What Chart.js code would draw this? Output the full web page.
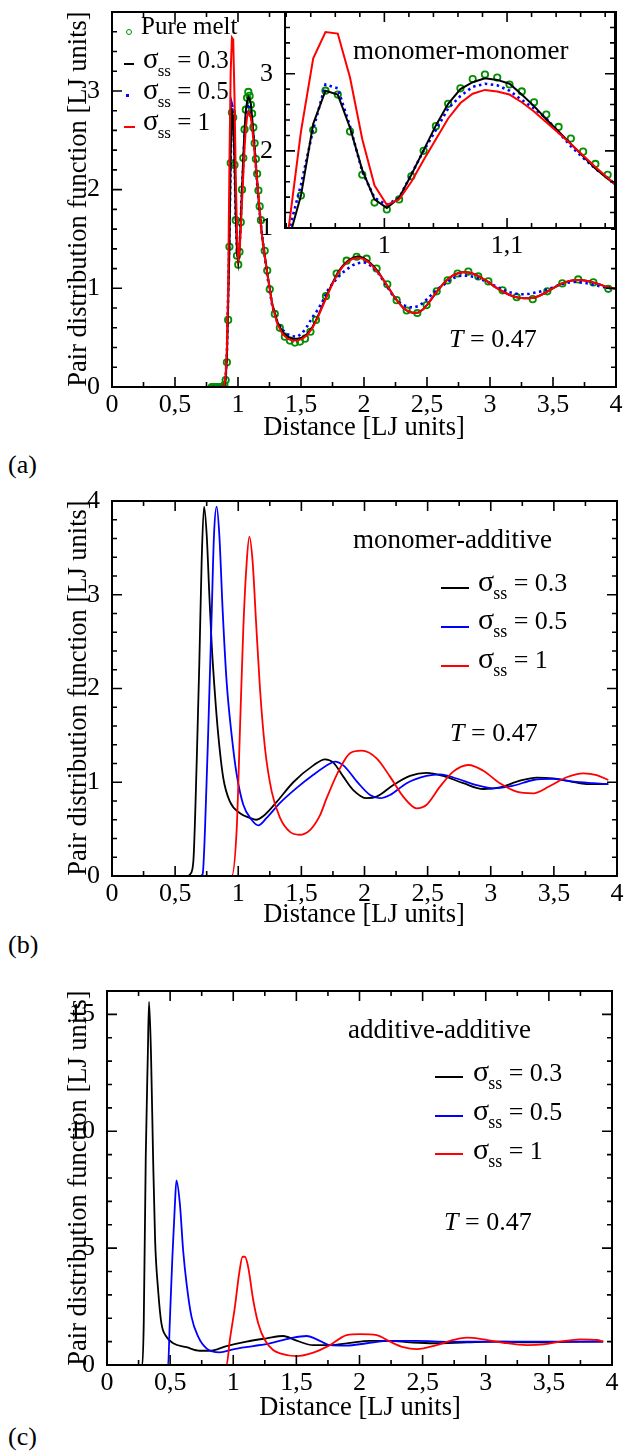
<!DOCTYPE html>
<html>
<head>
<meta charset="utf-8">
<title>Pair distribution functions</title>
<script src="https://cdn.jsdelivr.net/npm/chart.js@4.4.1/dist/chart.umd.min.js"></script>
<style>
  body { margin: 0; background: #fff; }
  #page { position: relative; width: 631px; height: 1455px; overflow: hidden;
          font-family: "Liberation Serif", "Times New Roman", serif; color: #000; }
  canvas { position: absolute; }
  .t { position: absolute; white-space: nowrap; line-height: 1; font-size: 26px; }
  .ytitle { position: absolute; white-space: nowrap; line-height: 1; font-size: 26.5px;
            transform: translate(-50%, -50%) rotate(-90deg); }
  .xtitle { position: absolute; white-space: nowrap; line-height: 1; font-size: 26.5px;
            transform: translateX(-50%); }
  .sg { font-size: 30px; line-height: 0; }
  .sb { font-size: 18px; line-height: 0; position: relative; top: 8px; margin-left: -1px; }
  .leg-a .sg { font-size: 29px; }
  .leg-a .sb { font-size: 17px; }
  .sw { position: absolute; height: 2px; }
</style>
</head>
<body>
<div id="page">
  <canvas id="cA" width="631" height="420" style="left:0;top:0"></canvas>
  <canvas id="cInset" width="391" height="260" style="left:240px;top:0"></canvas>
  <canvas id="cB" width="631" height="430" style="left:0;top:480px"></canvas>
  <canvas id="cC" width="631" height="430" style="left:0;top:970px"></canvas>

  <!-- panel (a) -->
  <div class="ytitle" style="left:77px;top:199px">Pair distribution function [LJ units]</div>
  <div class="xtitle" style="left:364px;top:413px">Distance [LJ units]</div>
  <div class="t" style="left:8px;top:452px">(a)</div>
  <div class="t" style="left:353px;top:37px;font-size:27px">monomer-monomer</div>
  <div class="t" style="left:449px;top:326px"><i>T</i> = 0.47</div>
  <div style="position:absolute;left:126px;top:29px;width:4px;height:4px;border:1.6px solid #009000;border-radius:50%"></div>
  <div class="sw" style="left:124px;top:63px;width:10px;background:#000"></div>
  <div class="sw" style="left:126px;top:94px;width:3px;height:3px;background:#0000ff"></div>
  <div class="sw" style="left:124px;top:126px;width:11px;background:#ff0000"></div>
  <div class="t leg-a" style="left:141px;top:13px;font-size:25px">Pure melt</div>
  <div class="t leg-a" style="left:143px;top:47px;font-size:25px"><span class="sg">σ</span><span class="sb">ss</span> = 0.3</div>
  <div class="t leg-a" style="left:143px;top:78px;font-size:25px"><span class="sg">σ</span><span class="sb">ss</span> = 0.5</div>
  <div class="t leg-a" style="left:143px;top:109px;font-size:25px"><span class="sg">σ</span><span class="sb">ss</span> = 1</div>

  <!-- panel (b) -->
  <div class="ytitle" style="left:77px;top:688px">Pair distribution function [LJ units]</div>
  <div class="xtitle" style="left:364px;top:900px">Distance [LJ units]</div>
  <div class="t" style="left:8px;top:932px">(b)</div>
  <div class="t" style="left:353px;top:526px;font-size:27px">monomer-additive</div>
  <div class="sw" style="left:441px;top:587px;width:28px;background:#000"></div>
  <div class="sw" style="left:441px;top:626px;width:28px;background:#0000ff"></div>
  <div class="sw" style="left:441px;top:665px;width:28px;background:#ff0000"></div>
  <div class="t" style="left:478px;top:570px"><span class="sg">σ</span><span class="sb">ss</span> = 0.3</div>
  <div class="t" style="left:478px;top:608px"><span class="sg">σ</span><span class="sb">ss</span> = 0.5</div>
  <div class="t" style="left:478px;top:647px"><span class="sg">σ</span><span class="sb">ss</span> = 1</div>
  <div class="t" style="left:450px;top:720px"><i>T</i> = 0.47</div>

  <!-- panel (c) -->
  <div class="ytitle" style="left:77px;top:1178px">Pair distribution function [LJ units]</div>
  <div class="xtitle" style="left:360px;top:1393px">Distance [LJ units]</div>
  <div class="t" style="left:8px;top:1424px">(c)</div>
  <div class="t" style="left:348px;top:1016px;font-size:27px">additive-additive</div>
  <div class="sw" style="left:435px;top:1076px;width:28px;background:#000"></div>
  <div class="sw" style="left:435px;top:1115px;width:28px;background:#0000ff"></div>
  <div class="sw" style="left:435px;top:1153px;width:28px;background:#ff0000"></div>
  <div class="t" style="left:473px;top:1060px"><span class="sg">σ</span><span class="sb">ss</span> = 0.3</div>
  <div class="t" style="left:473px;top:1099px"><span class="sg">σ</span><span class="sb">ss</span> = 0.5</div>
  <div class="t" style="left:473px;top:1138px"><span class="sg">σ</span><span class="sb">ss</span> = 1</div>
  <div class="t" style="left:444px;top:1209px"><i>T</i> = 0.47</div>
</div>

<script>
/* ---------- (a) monomer-monomer ---------- */
// pure melt: fine bins around the first shell, sparser further out
const aPureX = [0.792,0.802,0.812,0.822,0.832,0.842,0.852,0.862,0.872,0.882,0.892,0.902,0.912,0.922,0.932,0.942,0.952,0.962,0.972,0.982,
  0.992,1.002,1.012,1.022,1.032,1.042,1.052,1.062,1.072,1.082,1.092,1.102,1.112,1.122,1.132,1.142,1.152,1.162,1.172,1.182,
  1.212,1.232,1.252,1.292,1.332,1.372,1.412,1.452,1.492,1.532,1.575,1.619,1.698,1.783,1.862,1.942,2.021,2.100,2.185,2.259,
  2.339,2.423,2.497,2.577,2.664,2.743,2.828,2.907,2.987,3.100,3.212,3.339,3.455,3.574,3.700,3.820,3.939];
const aPureY = [0,0,0,0,0,0,0,0,0,0,0.02,0.07,0.25,0.68,1.42,2.27,2.78,2.73,2.25,1.69,
  1.33,1.24,1.37,1.67,2.00,2.32,2.61,2.81,2.93,2.99,2.95,2.86,2.77,2.63,2.47,2.31,2.16,1.99,1.83,1.69,
  1.38,1.18,0.99,0.74,0.60,0.51,0.47,0.45,0.46,0.49,0.56,0.68,0.92,1.15,1.28,1.32,1.30,1.20,1.04,0.88,
  0.775,0.75,0.83,0.97,1.08,1.15,1.17,1.12,1.07,0.98,0.91,0.89,0.97,1.05,1.09,1.06,0.995];

const aDenseX = [0.792,0.802,0.812,0.822,0.832,0.842,0.852,0.862,0.872,0.882,0.892,0.902,0.912,0.922,0.932,0.942,0.952,0.962,0.972,0.982,
  0.992,1.002,1.012,1.022,1.032,1.042,1.052,1.062,1.072,1.082,1.092,1.102,1.112,1.122,1.132,1.142,1.152,1.162,1.172,1.182,1.192];
const aTailX = [1.232,1.272,1.312,1.352,1.392,1.432,1.472,1.512,1.552,1.592,1.632,1.672,1.712,1.752,1.792,1.832,1.872,1.912,1.952,1.992,
  2.032,2.072,2.112,2.152,2.192,2.232,2.272,2.312,2.352,2.392,2.432,2.472,2.512,2.552,2.592,2.632,2.672,2.712,2.752,2.792,
  2.832,2.872,2.912,2.952,2.992,3.032,3.072,3.112,3.152,3.192,3.232,3.272,3.312,3.352,3.392,3.432,3.472,3.512,3.552,3.592,
  3.632,3.672,3.712,3.752,3.792,3.832,3.872,3.912,3.952,3.992];

const aS03Dense = [0,0,0,0,0,0,0,0,0,0,0.02,0.08,0.30,0.85,1.42,2.35,2.78,2.73,2.30,1.75,
  1.37,1.26,1.39,1.69,2.01,2.33,2.61,2.80,2.89,2.94,2.92,2.87,2.73,2.58,2.41,2.25,2.09,1.93,1.77,1.64,1.52];
const aS03Tail = [1.16,0.84,0.66,0.56,0.51,0.49,0.49,0.50,0.54,0.61,0.71,0.83,0.95,1.06,1.16,1.23,1.28,1.31,1.325,1.31,
  1.28,1.23,1.17,1.09,1.01,0.93,0.86,0.80,0.765,0.75,0.755,0.79,0.85,0.92,0.99,1.05,1.10,1.135,1.155,1.165,
  1.16,1.145,1.12,1.09,1.06,1.02,0.99,0.96,0.935,0.915,0.905,0.90,0.90,0.905,0.925,0.95,0.98,1.01,1.04,1.06,
  1.075,1.085,1.085,1.08,1.07,1.055,1.04,1.02,1.005,0.995];

const aS05Dense = [0,0,0,0,0,0,0,0,0,0,0.03,0.10,0.35,0.95,1.56,2.28,2.86,2.81,2.32,1.73,
  1.39,1.30,1.39,1.70,2.00,2.27,2.55,2.71,2.83,2.87,2.85,2.78,2.66,2.55,2.42,2.24,2.06,1.91,1.77,1.65,1.52];
const aS05Tail = [1.13,0.82,0.66,0.58,0.535,0.515,0.51,0.55,0.62,0.71,0.78,0.87,0.98,1.05,1.11,1.16,1.20,1.235,1.255,1.265,
  1.25,1.21,1.155,1.08,1.00,0.92,0.865,0.83,0.81,0.805,0.82,0.855,0.905,0.955,1.00,1.035,1.075,1.105,1.125,1.13,
  1.125,1.115,1.10,1.08,1.06,1.03,1.005,0.98,0.96,0.95,0.94,0.94,0.945,0.955,0.965,0.98,0.995,1.015,1.035,1.05,
  1.06,1.065,1.06,1.055,1.045,1.035,1.02,1.01,1.0,0.995];

const aS1Dense = [0,0,0,0,0,0,0,0,0,0,0.03,0.12,0.40,1.00,2.25,3.20,3.54,3.52,2.95,2.15,
  1.55,1.30,1.37,1.60,1.88,2.15,2.42,2.62,2.74,2.79,2.77,2.73,2.63,2.51,2.37,2.23,2.09,1.94,1.79,1.65,1.51];
const aS1Tail = [1.15,0.83,0.64,0.54,0.49,0.47,0.47,0.49,0.53,0.60,0.70,0.82,0.94,1.05,1.15,1.22,1.27,1.30,1.31,1.30,
  1.27,1.22,1.16,1.09,1.01,0.93,0.86,0.80,0.765,0.75,0.755,0.79,0.85,0.92,0.99,1.05,1.10,1.135,1.155,1.165,
  1.16,1.145,1.12,1.09,1.06,1.02,0.99,0.96,0.935,0.915,0.905,0.90,0.90,0.905,0.925,0.95,0.98,1.01,1.04,1.06,
  1.075,1.085,1.085,1.08,1.07,1.055,1.04,1.02,1.005,0.995];

/* ---------- (b) monomer-additive ---------- */
const bS03X = [0.40,0.60,0.62,0.644,0.671,0.692,0.710,0.729,0.750,0.771,0.790,0.816,0.842,0.882,0.935,1.014,1.093,1.141,1.199,1.304,
  1.436,1.595,1.687,1.753,1.832,1.911,2.017,2.096,2.228,2.360,2.490,2.624,2.783,2.941,3.073,3.232,3.364,3.495,3.628,3.760,3.931];
const bS03Y = [0,0,0.02,0.15,1.22,2.29,3.35,3.94,3.64,3.00,2.46,1.93,1.50,1.04,0.79,0.67,0.62,0.60,0.64,0.79,
  1.00,1.18,1.245,1.21,1.06,0.917,0.83,0.846,0.97,1.067,1.10,1.067,0.99,0.928,0.946,1.017,1.05,1.04,1.01,0.98,0.98];
const bS05X = [0.40,0.70,0.718,0.737,0.763,0.790,0.808,0.829,0.850,0.877,0.908,0.948,0.988,1.040,1.106,1.159,1.225,1.331,1.463,1.595,
  1.727,1.766,1.832,1.951,2.044,2.123,2.202,2.334,2.490,2.598,2.730,2.889,3.020,3.179,3.337,3.495,3.654,3.812,3.931];
const bS05Y = [0,0,0.02,0.51,1.58,2.82,3.64,3.94,3.64,2.82,2.07,1.50,1.08,0.76,0.60,0.54,0.62,0.78,0.94,1.08,
  1.20,1.22,1.18,0.99,0.864,0.83,0.864,0.99,1.067,1.085,1.04,0.97,0.935,0.963,1.024,1.035,1.006,0.99,0.98];
const bS1X = [0.70,0.948,0.988,1.014,1.040,1.067,1.088,1.114,1.141,1.172,1.212,1.265,1.331,1.410,1.484,1.568,1.648,1.700,1.806,1.885,
  1.978,2.096,2.202,2.307,2.413,2.490,2.598,2.703,2.822,2.941,3.073,3.205,3.337,3.469,3.601,3.733,3.839,3.931];
const bS1Y = [0,0,0.51,1.58,2.64,3.35,3.62,3.35,2.71,2.00,1.36,0.90,0.62,0.47,0.44,0.49,0.65,0.83,1.15,1.31,
  1.337,1.255,1.06,0.846,0.722,0.757,0.953,1.113,1.184,1.123,0.989,0.90,0.882,0.96,1.053,1.095,1.077,1.024];

/* ---------- (c) additive-additive ---------- */
const cS03X = [0.10,0.28,0.291,0.307,0.323,0.333,0.349,0.365,0.381,0.405,0.431,0.471,0.524,0.630,0.735,0.815,0.947,1.105,1.264,1.396,
  1.502,1.634,1.766,1.925,2.083,2.242,2.400,2.585,2.850,3.114,3.378,3.643,3.930];
const cS03Y = [0,0,1.78,8.9,13.2,15.53,13.2,8.9,5.34,3.2,1.78,1.21,0.93,0.76,0.61,0.61,0.81,1.0,1.14,1.24,
  1.04,0.85,0.85,0.95,1.03,1.03,0.97,0.93,0.97,1.0,0.97,0.99,1.0];
const cS05X = [0.30,0.484,0.497,0.518,0.537,0.550,0.577,0.603,0.630,0.669,0.722,0.788,0.894,0.999,1.158,1.290,1.449,1.581,1.661,1.766,
  1.899,2.057,2.242,2.454,2.718,2.982,3.300,3.600,3.930];
const cS05Y = [0,0,1.78,4.63,6.77,7.9,6.91,4.91,3.49,2.07,1.21,0.71,0.54,0.67,0.81,0.93,1.14,1.24,1.10,0.85,
  0.83,0.93,1.03,1.03,0.99,1.0,1.0,1.0,1.0];
const cS1X = [0.80,0.947,0.973,1.013,1.047,1.074,1.092,1.118,1.158,1.198,1.250,1.316,1.370,1.502,1.634,1.766,1.899,2.004,2.136,2.242,
  2.347,2.454,2.612,2.744,2.850,2.982,3.140,3.326,3.457,3.590,3.749,3.881,3.930];
const cS1Y = [0,0,1.07,2.49,3.92,4.63,4.63,4.2,2.78,1.78,1.07,0.64,0.50,0.38,0.53,0.85,1.28,1.32,1.28,1.0,
  0.76,0.68,0.85,1.07,1.17,1.10,0.95,0.85,0.88,1.0,1.10,1.07,1.0];

/* ---------- tick labels ---------- */
const xTicksMain = [0,0.5,1,1.5,2,2.5,3,3.5,4];
const aYTicks = [0,1,2,3];
const insetXTicks = [1,1.1];
const insetYTicks = [1,2,3];
const bYTicks = [0,1,2,3,4];
const cYTicks = [0,5,10,15];

const COL = { black: "#000000", blue: "#0000ff", red: "#ff0000", green: "#009000" };

function pts(xs, ys) {
  return xs.map((x, i) => ({ x, y: ys[i] }));
}
function fmtTick(v) {
  return String(+Number(v).toFixed(2)).replace(".", ",");
}
const isMul = (v, s) => Math.abs(v / s - Math.round(v / s)) < 1e-6;

/* inward ticks on all four sides + frame (xmgrace look) */
const frame = {
  id: "frame",
  beforeDraw(chart, args, o) {
    if (!o.fill) return;
    const a = chart.chartArea, ctx = chart.ctx;
    ctx.save();
    ctx.fillStyle = o.fill;
    ctx.fillRect(a.left, a.top, a.right - a.left, a.bottom - a.top);
    ctx.restore();
  },
  afterDraw(chart, args, o) {
    const a = chart.chartArea, ctx = chart.ctx;
    const sx = chart.scales.x, sy = chart.scales.y;
    ctx.save();
    ctx.strokeStyle = "#000";
    ctx.lineWidth = 1.6;
    ctx.beginPath();
    for (let k = Math.ceil(sx.min / o.xMinor - 1e-6); k * o.xMinor <= sx.max + 1e-6; k++) {
      const v = k * o.xMinor, p = sx.getPixelForValue(v);
      const len = isMul(v, o.xMajor) ? 10 : 5;
      ctx.moveTo(p, a.bottom); ctx.lineTo(p, a.bottom - len);
      ctx.moveTo(p, a.top); ctx.lineTo(p, a.top + len);
    }
    for (let k = Math.ceil(sy.min / o.yMinor - 1e-6); k * o.yMinor <= sy.max + 1e-6; k++) {
      const v = k * o.yMinor, p = sy.getPixelForValue(v);
      const len = isMul(v, o.yMajor) ? 10 : 5;
      ctx.moveTo(a.left, p); ctx.lineTo(a.left + len, p);
      ctx.moveTo(a.right, p); ctx.lineTo(a.right - len, p);
    }
    ctx.stroke();
    ctx.lineWidth = 2;
    ctx.strokeRect(a.left, a.top, a.right - a.left, a.bottom - a.top);
    ctx.restore();
  },
};

const yTickFont = { family: "'Liberation Serif', 'Times New Roman', serif", size: 26 };
const xTickFont = { family: "'Liberation Serif', 'Times New Roman', serif", size: 26, lineHeight: 0.8 };

function panel(id, o) {
  return new Chart(document.getElementById(id), {
    type: "scatter",
    data: { datasets: o.datasets },
    options: {
      responsive: false,
      animation: false,
      events: [],
      layout: { padding: { left: 0, bottom: 0, top: o.padTop, right: o.padRight } },
      plugins: { legend: { display: false }, tooltip: { enabled: false }, frame: o.frame },
      scales: {
        x: {
          type: "linear", min: o.xRange[0], max: o.xRange[1],
          grid: { display: false }, border: { display: false },
          ticks: { font: xTickFont, color: "#000", padding: 0, maxRotation: 0, autoSkip: false, callback: fmtTick },
          afterBuildTicks: (s) => { s.ticks = o.xTicks.map((v) => ({ value: v })); },
          afterFit: (s) => { s.height = o.xH; s.paddingLeft = 0; s.paddingRight = 0; },
        },
        y: {
          type: "linear", min: o.yRange[0], max: o.yRange[1],
          grid: { display: false }, border: { display: false },
          ticks: { font: yTickFont, color: "#000", padding: 4, autoSkip: false, callback: fmtTick },
          afterBuildTicks: (s) => { s.ticks = o.yTicks.map((v) => ({ value: v })); },
          afterFit: (s) => { s.width = o.yW; s.paddingTop = 0; s.paddingBottom = 0; },
        },
      },
    },
    plugins: [frame],
  });
}

function line(data, color, extra) {
  return Object.assign({ data, showLine: true, borderColor: color, borderWidth: 2, pointRadius: 0, tension: 0, fill: false }, extra || {});
}

function datasetsA() {
  return [
    line(pts(aDenseX.concat(aTailX), aS1Dense.concat(aS1Tail)), COL.red),
    line(pts(aDenseX.concat(aTailX), aS03Dense.concat(aS03Tail)), COL.black),
    line(pts(aDenseX.concat(aTailX), aS05Dense.concat(aS05Tail)), COL.blue, { borderWidth: 2.6, borderDash: [2.5, 3.5] }),
    {
      data: pts(aPureX, aPureY), showLine: false, pointStyle: "circle", pointRadius: 3.2,
      pointBorderWidth: 1.8, borderColor: COL.green, backgroundColor: "rgba(0,0,0,0)",
    },
  ];
}

const smooth = { cubicInterpolationMode: "monotone", borderWidth: 1.8 };

function drawAll() {
  const list = [];
  /* panel (a) + inset */
  list.push(panel("cA", {
    datasets: datasetsA(),
    xRange: [0, 4], yRange: [0, 3.8], xTicks: xTicksMain, yTicks: aYTicks,
    padTop: 12, padRight: 15, yW: 112, xH: 33,
    frame: { xMinor: 0.25, xMajor: 0.5, yMinor: 0.2, yMajor: 1 },
  }));
  list.push(panel("cInset", {
    datasets: datasetsA(),
    xRange: [0.919, 1.188], yRange: [1, 3.8], xTicks: insetXTicks, yTicks: insetYTicks,
    padTop: 12, padRight: 16, yW: 45, xH: 32,
    frame: { xMinor: 0.02, xMajor: 0.1, yMinor: 0.2, yMajor: 1, fill: "#ffffff" },
  }));
  /* panel (b) */
  list.push(panel("cB", {
    datasets: [
      line(pts(bS1X, bS1Y), COL.red, smooth),
      line(pts(bS05X, bS05Y), COL.blue, smooth),
      line(pts(bS03X, bS03Y), COL.black, smooth),
    ],
    xRange: [0, 4], yRange: [0, 4], xTicks: xTicksMain, yTicks: bYTicks,
    padTop: 21, padRight: 14, yW: 112, xH: 34,
    frame: { xMinor: 0.25, xMajor: 0.5, yMinor: 0.2, yMajor: 1 },
  }));
  /* panel (c) */
  list.push(panel("cC", {
    datasets: [
      line(pts(cS1X, cS1Y), COL.red, smooth),
      line(pts(cS05X, cS05Y), COL.blue, smooth),
      line(pts(cS03X, cS03Y), COL.black, smooth),
    ],
    xRange: [0, 4], yRange: [0, 16], xTicks: xTicksMain, yTicks: cYTicks,
    padTop: 21, padRight: 19, yW: 107, xH: 35,
    frame: { xMinor: 0.25, xMajor: 0.5, yMinor: 1, yMajor: 5 },
  }));
  return list;
}

// warm the serif face up before the first canvas draw, then redraw once it is surely there
const warm = document.createElement("canvas").getContext("2d");
warm.font = "26px 'Liberation Serif'";
warm.measureText("0,5 1234");
const charts = drawAll();
const redraw = () => charts.forEach((c) => c.update());
if (document.fonts) {
  document.fonts.load("26px 'Liberation Serif'").then(redraw);
  document.fonts.ready.then(redraw);
}
window.addEventListener("load", redraw);
</script>
</body>
</html>
